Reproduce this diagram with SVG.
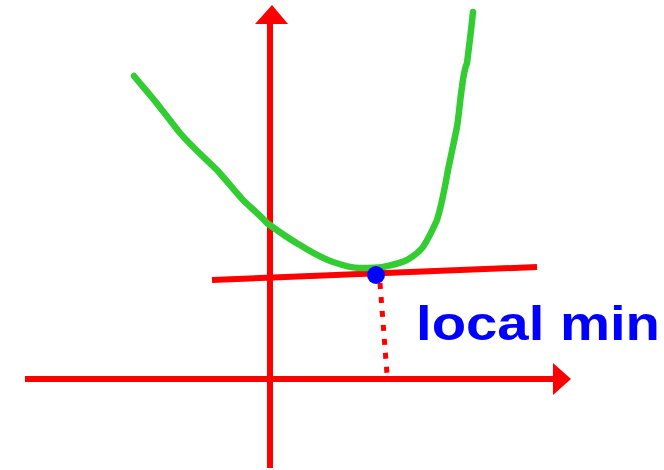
<svg xmlns="http://www.w3.org/2000/svg" width="664" height="470" viewBox="0 0 664 470">
  <style>
    .axis { stroke: #ff0000; stroke-width: 6; fill: none; stroke-linecap: butt; }
    .head { fill: #ff0000; stroke: none; }
    .curve { stroke: #33cc33; stroke-width: 6.5; fill: none; stroke-linecap: round; stroke-linejoin: round; }
    .dots { stroke: #ff0000; stroke-width: 5; fill: none; stroke-dasharray: 6 8; }
    .label { fill: #0000ff; font-family: "Liberation Sans", Arial, sans-serif; font-size: 48px; font-weight: bold; }
  </style>
  <rect width="664" height="470" fill="#ffffff"/>
  <g id="connectors">
    <g id="y-axis">
      <line class="axis" x1="270" y1="468" x2="270" y2="22"/>
      <polygon class="head" points="272,5 255,24 288,24"/>
    </g>
    <g id="x-axis">
      <line class="axis" x1="25" y1="379" x2="555" y2="379"/>
      <polygon class="head" points="571,379 553,363 553,395"/>
    </g>
    <g id="tangent">
      <line class="axis" x1="212" y1="280" x2="537" y2="267"/>
    </g>
    <g id="drop-line">
      <line class="dots" x1="380" y1="283" x2="387" y2="374"/>
    </g>
  </g>
  <g id="curve">
    <path class="curve" d="M134,76 C143,87 153,98 162,110 C170,120 175,127 180,133 C192,147 205,158 217,170 C226,180 235,191 243,200 C251,208 259,214 267,223 C278,231 289,239 300,245 C311,252 322,258 333,262 C342,265 351,268 360,268 C368,268 376,268 383,267 C391,265 399,264 407,260 C414,256 419,252 423,247 C429,238 433,229 437,220 C442,204 445,187 448,170 C451,156 454,141 457,127 C459,114 460,100 462,87 C463,79 464,70 467,63 C469,47 471,32 473,12"/>
  </g>
  <g id="local-min">
    <circle cx="376" cy="275" r="9" fill="#0000ff"/>
    <text class="label" x="416" y="340" textLength="244" lengthAdjust="spacingAndGlyphs">local min</text>
  </g>
</svg>
